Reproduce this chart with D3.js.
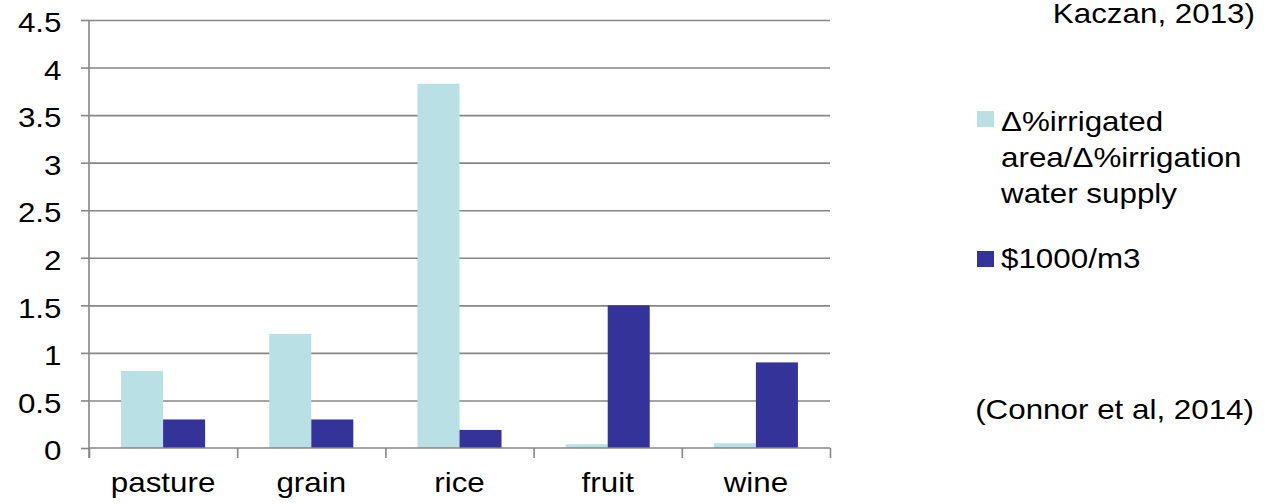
<!DOCTYPE html>
<html>
<head>
<meta charset="utf-8">
<script src="https://cdn.jsdelivr.net/npm/d3@7"></script>
<style>
  body { margin: 0; background: #fff; }
  svg { display: block; }
  text { font-family: "Liberation Sans", Arial, sans-serif; fill: #000; }
</style>
</head>
<body>
<svg id="chart" width="1268" height="504"></svg>
<script>
// Crop response figures
const categories = ["pasture", "grain", "rice", "fruit", "wine"];
const areaRatio = [0.81, 1.2, 3.83, 0.04, 0.05];   // Δ%irrigated area / Δ%irrigation water supply
const valuePerM3 = [0.3, 0.3, 0.19, 1.5, 0.9];     // $1000/m3
const yTicks = [0, 0.5, 1, 1.5, 2, 2.5, 3, 3.5, 4, 4.5];
const seriesKeys = ["area", "value"];
const legendLines = [["Δ%irrigated", "area/Δ%irrigation", "water supply"], ["$1000/m3"]];
const seriesColors = ["#B9E0E4", "#333399"];

const rows = categories.map((c, i) => ({ cat: c, area: areaRatio[i], value: valuePerM3[i] }));

const svg = d3.select("#chart");
const plotL = 89, plotR = 830, plotT = 20, plotB = 448;
const FONT = 28, SX = 1.12;   // text is drawn slightly widened

const y = d3.scaleLinear().domain([0, 4.5]).range([plotB, plotT]);
const x0 = d3.scaleBand().domain(categories).range([plotL, plotR])
  .paddingInner(0.433).paddingOuter(0.2165);
const x1 = d3.scaleBand().domain(seriesKeys).range([0, x0.bandwidth()]);
const color = d3.scaleOrdinal().domain(seriesKeys).range(seriesColors);

const grey = "#868686";

// horizontal gridlines
const grid = svg.append("g").attr("transform", `translate(${plotL},0)`)
  .call(d3.axisLeft(y).tickValues(yTicks.filter(v => v > 0)).tickSize(-(plotR - plotL)).tickFormat(""));
grid.select(".domain").remove();
grid.selectAll("line").attr("stroke", grey).attr("stroke-width", 1.6);

// bars
svg.append("g").selectAll("g").data(rows).join("g")
  .attr("transform", d => `translate(${x0(d.cat)},0)`)
  .selectAll("rect").data(d => seriesKeys.map(k => ({ key: k, v: d[k] }))).join("rect")
  .attr("x", d => x1(d.key))
  .attr("width", x1.bandwidth())
  .attr("y", d => y(d.v))
  .attr("height", d => y(0) - y(d.v))
  .attr("fill", d => color(d.key));

// y axis with ticks and labels
const yAxis = svg.append("g").attr("transform", `translate(${plotL},0)`)
  .call(d3.axisLeft(y).tickValues(yTicks).tickSize(8).tickFormat(d3.format("")));
yAxis.select(".domain").remove();
yAxis.append("line").attr("x1", 0).attr("x2", 0).attr("y1", plotT).attr("y2", plotB + 10)
  .attr("stroke", grey).attr("stroke-width", 1.6);
yAxis.selectAll(".tick line").attr("stroke", grey).attr("stroke-width", 1.6);
yAxis.selectAll(".tick text")
  .attr("x", 0).attr("dy", "0.42em")
  .attr("transform", `translate(-27.5,0) scale(${SX},1)`)
  .attr("text-anchor", "end")
  .style("font-size", FONT + "px").style("font-family", null);

// x axis baseline and category dividers
const bounds = d3.scaleLinear().domain([0, categories.length]).range([plotL, plotR]);
const xTicks = svg.append("g").attr("transform", `translate(0,${plotB})`)
  .call(d3.axisBottom(bounds).tickValues(d3.range(categories.length + 1)).tickSize(10).tickFormat(""));
xTicks.select(".domain").attr("stroke", grey).attr("stroke-width", 1.6).attr("d", `M${plotL},0H${plotR}`);
xTicks.selectAll(".tick line").attr("stroke", grey).attr("stroke-width", 1.6);

// category labels
const xAxis = svg.append("g").attr("transform", `translate(0,${plotB})`)
  .call(d3.axisBottom(x0).tickSize(0));
xAxis.select(".domain").remove();
xAxis.selectAll(".tick text")
  .attr("y", 0).attr("dy", 0)
  .attr("transform", `translate(0,44) scale(${SX},1)`)
  .style("font-size", FONT + "px").style("font-family", null);

// legend
const legend = svg.append("g");
const legendSwatchY = [111, 251];
const legendBase = [[131, 167, 203], [268]];
seriesKeys.forEach((k, i) => {
  legend.append("rect").attr("x", 977).attr("y", legendSwatchY[i])
    .attr("width", 17).attr("height", 16).attr("fill", color(k));
  legendLines[i].forEach((t, j) => {
    legend.append("text")
      .attr("transform", `translate(1001,${legendBase[i][j]}) scale(${SX},1)`)
      .style("font-size", FONT + "px")
      .text(t);
  });
});

// source notes
svg.append("text")
  .attr("transform", `translate(1255,23) scale(${SX},1)`)
  .attr("text-anchor", "end").style("font-size", FONT + "px")
  .text("Kaczan, 2013)");
svg.append("text")
  .attr("transform", `translate(1254,419) scale(${SX},1)`)
  .attr("text-anchor", "end").style("font-size", FONT + "px")
  .text("(Connor et al, 2014)");
</script>
</body>
</html>
